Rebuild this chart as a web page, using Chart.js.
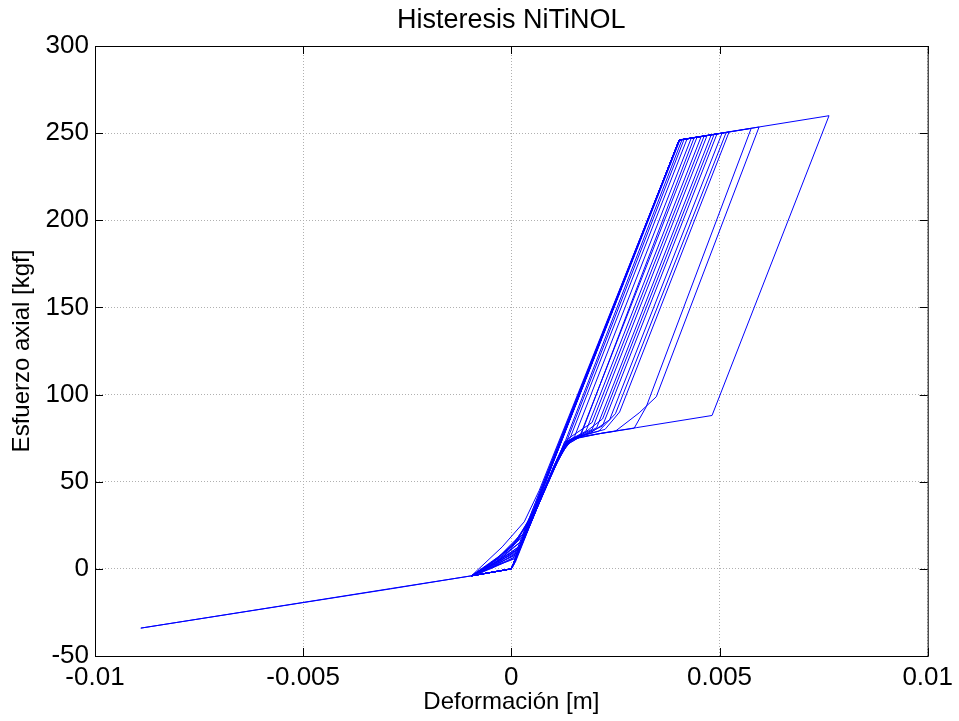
<!DOCTYPE html>
<html>
<head>
<meta charset="utf-8">
<title>Histeresis NiTiNOL</title>
<script src="https://cdn.jsdelivr.net/npm/chart.js@4.4.0/dist/chart.umd.min.js"></script>
<style>
    html, body { margin: 0; padding: 0; background: #fff; }
    #chart-box { width: 959px; height: 721px; }
</style>
</head>
<body>
<div id="chart-box"><canvas id="histeresis-chart" width="959" height="721"></canvas></div>
<script>
// deformacion [m] / esfuerzo [kgf], one line per cycle
var deformacion = [
    0,
    0.00403, 0.00439, 0.00165, 0.00128, 0.0011, 0.0006, 0.00005, 0, -0.00096, -0.0004, 0.0001,
    0.00404, 0.00463, 0.00194, 0.00135, 0.0011, 0.00065, 0.0001, 0, -0.00096, -0.00035, 0.0002,
    0.00403, 0.00487, 0.00219, 0.0017, 0.0013, 0.00105, 0.0006, 0, -0.00096, -0.0003, 0.0003,
    0.00403, 0.00523, 0.0026, 0.00225, 0.0016, 0.0013, 0.001, 0.0005, 0, -0.00096, -0.00022, 0.00031, 0.00067,
    0.00404, 0.00763, 0.00482, 0.003, 0.0022, 0.0016, 0.00125, 0.00095, 0.0005, 0, -0.00096, -0.0029, -0.0089, -0.0029, -0.00096, -0.0005, 0.00005,
    0.00403, 0.00595, 0.00348, 0.00307, 0.0025, 0.0017, 0.00135, 0.0011, 0.0007, 0.0001, 0, -0.00096, -0.00045, 0.00012,
    0.00403, 0.00576, 0.00324, 0.00295, 0.0021, 0.00145, 0.00112, 0.00065, 0.00008, 0, -0.00096, -0.0004, 0.00018,
    0.00403, 0.00516, 0.0025, 0.0021, 0.0015, 0.00125, 0.00098, 0.0005, 0, -0.00096, -0.0003, 0.00025,
    0.00404, 0.00506, 0.00236, 0.0019, 0.0014, 0.0011, 0.0006, 0, -0.00096, -0.00035, 0.0002,
    0.00403, 0.00494, 0.00219, 0.0016, 0.0013, 0.00105, 0.00055, 0, -0.00096, -0.00025, 0.00028,
    0.00403, 0.0048, 0.00205, 0.0017, 0.00135, 0.0011, 0.0006, 0.0001, 0, -0.00096, -0.0004, 0.00014,
    0.00403, 0.0047, 0.00194, 0.0015, 0.00125, 0.001, 0.0005, 0, -0.00096, -0.00035, 0.0002,
    0.00403, 0.00456, 0.00179, 0.0014, 0.0011, 0.0006, 0, -0.00096, -0.0003, 0.00025,
    0.00403, 0.00446, 0.00166, 0.00135, 0.0011, 0.00062, 0, -0.00096, -0.0004, 0.00016,
    0.00403, 0.00432, 0.00152, 0.0013, 0.00108, 0.0006, 0, -0.00096, -0.00045, 0.0001,
    0.00403, 0.00422, 0.00141, 0.00122, 0.001, 0.0005, 0, -0.00096, -0.0003, 0.0002,
    0.00405, 0.00415, 0.00135, 0.0011, 0.0006, 0, -0.0008, -0.0003, 0.00015,
    0.00403, 0.0041, 0.0013, 0.0011, 0.0006, 0.00005, 0,
    // small cycles near the origin
    -0.00096, -0.0005, 0, 0.0004, 0.00005, 0,
    -0.0009, -0.0004, 0.0001, 0.0005, 0.0001, 0,
    -0.00096, -0.00055, -0.0001, 0.00035, 0.00002, 0,
    -0.00096, -0.00045, 0.00005, 0.00045, 0,
    -0.0009, -0.0003, 0.0002, 0.00055, 0.0001, 0
];
var esfuerzo = [
    0,
    246, 247.4, 75.5, 73, 62, 34, 2, 0, -4, 1.5, 7,
    246.1, 248.3, 84, 74.5, 63, 37, 4, 0, -4, 4, 13,
    246, 249.3, 86, 77, 72, 59, 35, 0, -4, 6, 19,
    246, 250.7, 90, 80, 76, 71, 57, 29, 0, -4, 12.6, 27, 45,
    246.2, 260, 88, 81, 78, 75, 70, 54, 28, 0, -4, -11.5, -34, -11.3, -4, 0, 6,
    246, 253.5, 98.7, 89.5, 79, 76, 73, 62, 40, 5, 0, -4, 2, 8,
    246, 252.7, 93, 80.7, 77.5, 74.5, 63, 38, 4, 0, -4, 3, 11,
    246, 250.4, 89, 79, 75, 68, 55, 29, 0, -4, 5, 16,
    246.1, 250, 85.5, 78, 74, 61, 34, 0, -4, 3, 12,
    246, 249.6, 82, 75, 71, 59, 31, 0, -4, 8, 20,
    246, 249, 81, 76.5, 73.5, 62, 35, 5, 0, -4, 2, 9,
    246, 248.6, 80, 75, 70, 57, 28, 0, -4, 4, 13,
    246, 248.1, 79, 74, 61, 34, 0, -4, 6, 16,
    246, 247.7, 77, 73, 62, 36, 0, -4, 3, 10,
    246, 247.1, 76, 72, 60, 35, 0, -4, 1, 6,
    246, 246.7, 75, 69, 58, 29, 0, -4, 5, 12,
    246.1, 246.5, 74.5, 62, 35, 0, -3.3, 3, 9.5,
    246, 246.3, 73.5, 63, 36, 2, 0,
    // small cycles near the origin
    -4, 3, 13, 26, 3, 0,
    -3.8, 4.5, 15, 30, 6, 0,
    -4, 1, 9, 22, 1, 0,
    -4, 4, 14, 29, 0,
    -3.8, 7, 19, 34, 5, 0
];
var xTickLabels = ['-0.01', '-0.005', '0', '0.005', '0.01'];

var puntos = deformacion.map(function(x, i) {
    return {x: x, y: esfuerzo[i]};
});

// matlab style box with inner tick marks
var marcoPlugin = {
    id: 'marco',
    afterDraw: function(chart) {
        var a = chart.chartArea;
        var c = chart.ctx;
        var xs = chart.scales.x;
        var ys = chart.scales.y;
        c.save();
        c.strokeStyle = '#000';
        c.lineWidth = 1;
        c.beginPath();
        xs.ticks.forEach(function(t) {
            var px = Math.round(xs.getPixelForValue(t.value)) + 0.5;
            c.moveTo(px, a.bottom);
            c.lineTo(px, a.bottom - 8);
            c.moveTo(px, a.top);
            c.lineTo(px, a.top + 8);
        });
        ys.ticks.forEach(function(t) {
            var py = Math.round(ys.getPixelForValue(t.value)) + 0.5;
            c.moveTo(a.left, py);
            c.lineTo(a.left + 8, py);
            c.moveTo(a.right, py);
            c.lineTo(a.right - 8, py);
        });
        c.stroke();
        c.strokeRect(a.left + 0.5, a.top + 0.5, a.right - a.left, a.bottom - a.top);
        c.restore();
    }
};

var fuente = "'Liberation Sans', Arial, Helvetica, sans-serif";
Chart.defaults.font.family = fuente;
Chart.defaults.color = '#000';

var ctx = document.getElementById('histeresis-chart').getContext('2d');
var myChart = new Chart(ctx, {
    type: 'scatter',
    data: {
        datasets: [{
            label: 'Histeresis',
            data: puntos,
            showLine: true,
            borderColor: '#0000ff',
            borderWidth: 1,
            pointRadius: 0,
            tension: 0
        }]
    },
    options: {
        responsive: false,
        animation: false,
        layout: {
            padding: {left: 8, right: 30, top: 0, bottom: 4}
        },
        plugins: {
            legend: {display: false},
            tooltip: {enabled: false},
            title: {
                display: true,
                fullSize: false,
                text: 'Histeresis NiTiNOL',
                color: '#000',
                font: {size: 27, weight: 'normal'},
                padding: {top: 4, bottom: 9.6}
            }
        },
        scales: {
            x: {
                type: 'linear',
                min: -0.01,
                max: 0.01,
                ticks: {
                    stepSize: 0.005,
                    padding: 6,
                    color: '#000',
                    font: {size: 26},
                    maxRotation: 0,
                    callback: function(value, index) {
                        return xTickLabels[index];
                    }
                },
                grid: {color: '#b0b0b0', drawTicks: false},
                border: {display: true, color: '#000', dash: [1, 2]},
                title: {
                    display: true,
                    text: 'Deformación [m]',
                    color: '#000',
                    font: {size: 24},
                    padding: {top: 0, bottom: 0}
                },
                afterFit: function(scale) {
                    scale.height = 61;
                }
            },
            y: {
                type: 'linear',
                min: -50,
                max: 300,
                ticks: {
                    stepSize: 50,
                    padding: 6,
                    color: '#000',
                    font: {size: 26}
                },
                grid: {color: '#b0b0b0', drawTicks: false},
                border: {display: true, color: '#000', dash: [1, 2]},
                title: {
                    display: true,
                    text: 'Esfuerzo axial [kgf]',
                    color: '#000',
                    font: {size: 24},
                    padding: {top: 0, bottom: 0}
                },
                afterFit: function(scale) {
                    scale.width = 87;
                }
            }
        }
    },
    plugins: [marcoPlugin]
});
</script>
</body>
</html>
